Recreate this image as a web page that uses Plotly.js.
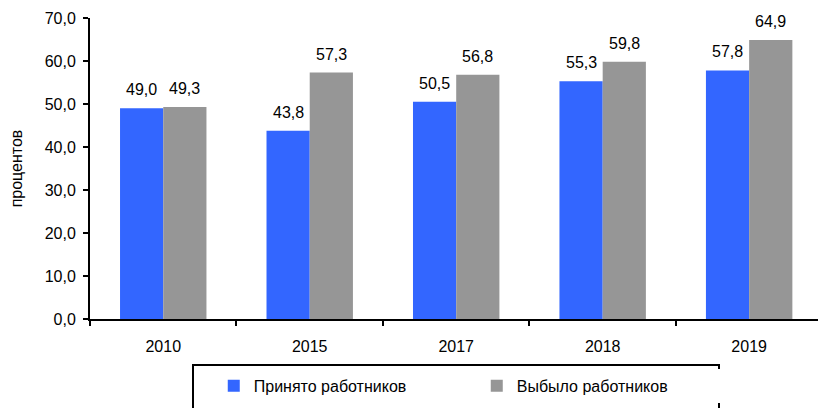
<!DOCTYPE html>
<html>
<head>
<meta charset="utf-8">
<script src="https://cdn.plot.ly/plotly-3.0.1.min.js"></script>
<style>
  html, body { margin: 0; padding: 0; background: #fff; }
  #chart { width: 818px; height: 408px; }
</style>
</head>
<body>
<div id="chart"></div>
<script>
var years = ['2010', '2015', '2017', '2018', '2019'];
var hired = [49.0, 43.8, 50.5, 55.3, 57.8];
var left = [49.3, 57.3, 56.8, 59.8, 64.9];

var font = {family: 'Liberation Sans, Arial, sans-serif', size: 16, color: '#000'};

var trace1 = {
  x: years,
  y: hired,
  type: 'bar',
  name: 'Принято работников',
  hoverinfo: 'none',
  marker: {color: '#3366ff'}
};

var trace2 = {
  x: years,
  y: left,
  type: 'bar',
  name: 'Выбыло работников',
  hoverinfo: 'none',
  marker: {color: '#969696'}
};

// value labels above bars, lifted a bit like in the original
// (x is the category index: numeric-looking names would be read as positions)
function labels(vals, shift) {
  return vals.map(function (v, i) {
    return {
      x: i, y: v, xref: 'x', yref: 'y',
      text: v.toFixed(1).replace('.', ','),
      showarrow: false, xshift: shift, yshift: 8,
      yanchor: 'bottom', font: font
    };
  });
}

var layout = {
  width: 818,
  height: 408,
  font: font,
  separators: ', ',
  barmode: 'group',
  bargap: 0.41,
  bargroupgap: 0,
  showlegend: true,
  plot_bgcolor: '#fff',
  paper_bgcolor: '#fff',
  margin: {l: 90, r: 0, t: 18, b: 89},
  xaxis: {
    type: 'category',
    range: [-0.5, 4.47],
    showline: true,
    linecolor: '#000',
    linewidth: 2,
    ticks: 'outside',
    tickson: 'boundaries',
    ticklen: 5,
    tickwidth: 2,
    tickcolor: '#000',
    ticklabelstandoff: 12,
    showgrid: false,
    zeroline: false
  },
  yaxis: {
    range: [0, 70],
    dtick: 10,
    tickformat: '.1f',
    showline: true,
    linecolor: '#000',
    linewidth: 2,
    ticks: 'outside',
    ticklen: 5,
    tickwidth: 2,
    tickcolor: '#000',
    ticklabelstandoff: 4,
    showgrid: false,
    zeroline: false,
    title: {text: 'процентов', font: font, standoff: 18}
  },
  legend: {
    orientation: 'h',
    x: 0.170,
    xanchor: 'left',
    y: -0.166,
    yanchor: 'top',
    borderwidth: 0,
    entrywidth: 218,
    font: font
  },
  shapes: [{
    type: 'rect', xref: 'paper', yref: 'paper',
    x0: (193 - 90) / 728, x1: (719 - 90) / 728,
    y0: (319 - 365) / 301, y1: (319 - 412) / 301,
    line: {color: '#000', width: 2}
  }],
  annotations: labels(hired, -21.6).concat(labels(left, 21.6))
};

Plotly.newPlot('chart', [trace1, trace2], layout, {staticPlot: true});
</script>
</body>
</html>
